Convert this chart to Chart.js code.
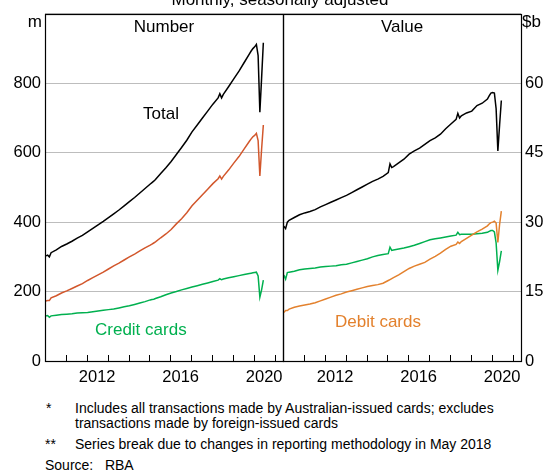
<!DOCTYPE html>
<html><head><meta charset="utf-8">
<script src="https://cdn.jsdelivr.net/npm/chart.js@4"></script>
<style>
body{margin:0;width:554px;height:472px;background:#fff;position:relative;overflow:hidden;font-family:"Liberation Sans",Arial,sans-serif;}
.c{position:absolute;top:0;}
.t{position:absolute;white-space:nowrap;line-height:1;color:#000;}
</style></head><body>
<div class="c" style="left:0;width:300px;height:395px"><canvas id="cL"></canvas></div>
<div class="c" style="left:270px;width:284px;height:395px"><canvas id="cR"></canvas></div>

<div class="t" style="font-size:17px;left:0;width:560px;text-align:center;top:-9.5px">Monthly, seasonally adjusted</div>
<div class="t" style="font-size:17px;left:45px;width:238px;text-align:center;top:17.5px">Number</div>
<div class="t" style="font-size:17px;left:283px;width:238px;text-align:center;top:17.5px">Value</div>
<div class="t" style="font-size:17px;right:512px;top:12.5px">m</div>
<div class="t" style="font-size:17px;left:522px;top:12.5px">$b</div>
<div class="t" style="font-size:17px;left:143px;top:105px">Total</div>
<div class="t" style="font-size:17px;left:95px;top:320.5px;color:#00b04f">Credit cards</div>
<div class="t" style="font-size:17px;left:335px;top:312.5px;color:#e3812d">Debit cards</div>

<div class="t" style="font-size:14px;left:46px;top:401px">*</div>
<div class="t" style="font-size:14px;left:75px;top:401px">Includes all transactions made by Australian-issued cards; excludes</div>
<div class="t" style="font-size:14px;left:75px;top:416px">transactions made by foreign-issued cards</div>
<div class="t" style="font-size:14px;left:45px;top:437px">**</div>
<div class="t" style="font-size:14px;left:75px;top:437px">Series break due to changes in reporting methodology in May 2018</div>
<div class="t" style="font-size:14px;left:45px;top:458px">Source:&nbsp;&nbsp;&nbsp;RBA</div>

<script>
const months = ["2010-01","2010-02","2010-03","2010-04","2010-07","2010-10",
"2011-01","2011-04","2011-07","2011-10","2012-01","2012-04","2012-07","2012-10",
"2013-01","2013-04","2013-07","2013-10","2014-01","2014-04","2014-07","2014-10",
"2015-01","2015-02","2015-03","2015-04","2015-07","2015-10",
"2016-01","2016-04","2016-07","2016-10","2017-01","2017-04","2017-07","2017-10",
"2018-01","2018-04","2018-05","2018-06","2018-07","2018-10",
"2019-01","2019-04","2019-07","2019-10","2019-11","2019-12",
"2020-01","2020-02","2020-03","2020-04","2020-05","2020-06"];

// Number of transactions, millions
const numberTotal = [303,305,300,312,320,330, 337,345,354,362, 372,382,392,402,
  413,424,435,447, 459,471,484,497, 510,514,518,523,540,557,
  575,595,615,636, 660,680,700,720, 740,758,770,758,768,790,
  813,835,860,885,893,900, 905,912,880,717,815,917];
const numberDebit = [173,174,174,182,188,196, 202,209,216,223, 232,240,248,256,
  265,274,282,291, 300,308,317,326, 334,337,340,343,355,366,
  379,395,410,427, 447,463,479,495, 511,525,533,524,532,550,
  570,589,611,633,640,646, 650,656,635,533,610,680];
const numberCredit = [130,131,126,130,132,134, 135,136,138,139, 140,142,144,146,
  148,150,153,156, 159,163,167,171, 176,177,178,180,185,191,
  196,200,205,209, 213,217,221,225, 229,233,237,234,236,240,
  243,246,249,252,253,254, 255,256,245,184,205,233];

// Value of transactions, $ billion
const valueTotal = [29.1,28.6,30.0,30.4,31.0,31.6, 32.0,32.3,32.7,33.3, 33.8,34.3,34.8,35.3,
  35.8,36.4,37.0,37.6, 38.2,38.8,39.3,39.9, 40.7,42.6,41.8,42.0,42.8,43.6,
  44.7,45.4,46.0,46.8, 47.6,48.2,49.0,50.2, 51.2,52.2,53.5,52.5,53.0,53.6,
  54.0,55.2,55.7,56.6,57.3,57.9, 58.0,57.9,54.5,45.4,51.0,56.3];
const valueCredit = [18.6,17.7,19.1,19.2,19.4,19.7, 19.9,20.0,20.1,20.3, 20.4,20.5,20.6,20.8,
  20.9,21.2,21.5,21.8, 22.1,22.5,22.8,23.0, 23.2,24.6,23.9,24.0,24.2,24.4,
  24.7,25.0,25.4,25.8, 26.2,26.4,26.6,26.8, 27.0,27.2,27.8,27.3,27.4,27.4,
  27.4,27.5,27.6,27.8,28.0,28.2, 28.2,27.9,25.5,19.6,21.5,23.8];
const valueDebit = [10.5,10.9,10.9,11.2,11.6,11.9, 12.1,12.3,12.6,13.0, 13.4,13.8,14.2,14.5,
  14.9,15.2,15.5,15.8, 16.1,16.3,16.5,16.8, 17.4,17.6,17.8,18.0,18.6,19.3,
  20.0,20.5,20.9,21.3, 22.0,22.6,23.3,24.1, 24.8,25.2,25.7,25.4,25.8,26.5,
  27.2,27.9,28.5,29.2,29.6,29.9, 30.0,30.2,29.8,25.6,29.5,32.4];

const yearTicks = [2010,2011,2012,2013,2014,2015,2016,2017,2018,2019,2020,2021];
const labelYears = [2012,2016,2020];

const FONT = '"Liberation Sans", Arial, sans-serif';
const xs = months.map(s => { const [y, m] = s.split('-').map(Number); return y + (m - 0.5) / 12; });
const pts = arr => arr.map((v, i) => ({x: xs[i], y: v}));

// plot frame + inward year tick marks, positioned through the x scale
const frame = {
  id: 'frame',
  afterDraw(c) {
    const a = c.chartArea, ctx = c.ctx, sx = c.scales.x;
    const b = Math.round(a.bottom);
    ctx.save();
    ctx.strokeStyle = '#000';
    ctx.lineWidth = 1.2;
    ctx.strokeRect(Math.round(a.left) + 0.5, Math.round(a.top) + 0.5,
      Math.round(a.right - a.left), Math.round(a.bottom - a.top));
    ctx.fillStyle = '#000';
    yearTicks.forEach(v => {
      const px = Math.round(sx.getPixelForValue(v));
      ctx.fillRect(px, b - 6, 1, 7);
    });
    ctx.restore();
  }
};

function ds(arr, color) {
  return {data: pts(arr), borderColor: color, backgroundColor: color, borderWidth: 1.5,
    pointRadius: 0, tension: 0, fill: false};
}

function makeChart(id, datasets, yMax, yStep, yPos, padding, yWidth) {
  return new Chart(document.getElementById(id), {
    type: 'line',
    data: {datasets},
    options: {
      responsive: true, maintainAspectRatio: false, animation: false,
      layout: {padding},
      plugins: {legend: {display: false}, tooltip: {enabled: false}, title: {display: false}},
      scales: {
        x: {
          type: 'linear', min: 2010, max: 2021.4,
          afterBuildTicks: s => { s.ticks = yearTicks.map(v => ({value: v})); },
          afterFit: s => { s.height = 34; },
          grid: {display: true, drawOnChartArea: false, drawTicks: false, color: '#000', lineWidth: 1},
          border: {display: true, color: '#000', width: 1},
          ticks: {autoSkip: false, maxRotation: 0, minRotation: 0, labelOffset: 10.4, padding: 7,
            font: {family: FONT, size: 16.5}, color: '#000',
            callback: v => labelYears.includes(v) ? String(v) : ''}
        },
        y: {
          position: yPos, min: 0, max: yMax,
          afterBuildTicks: s => { const t = []; for (let v = 0; v <= yMax; v += yStep) t.push({value: v}); s.ticks = t; },
          afterFit: s => { s.width = yWidth; },
          grid: {color: '#bdbdbd', lineWidth: 1, drawTicks: false},
          border: {display: false},
          ticks: {padding: 4, font: {family: FONT, size: 16.5}, color: '#000',
            callback: v => v === yMax ? '' : String(v)}
        }
      }
    },
    plugins: [frame]
  });
}

makeChart('cL', [
  ds(numberTotal, '#000000'),
  ds(numberDebit, '#d2572c'),
  ds(numberCredit, '#00b04f')
], 1000, 200, 'left', {top: 8.7, right: 17, left: 0, bottom: 0}, 45);

makeChart('cR', [
  ds(valueTotal, '#000000'),
  ds(valueDebit, '#e3812d'),
  ds(valueCredit, '#00b04f')
], 75, 15, 'right', {top: 8.7, right: 0, left: 13, bottom: 0}, 33);
</script>
</body></html>
